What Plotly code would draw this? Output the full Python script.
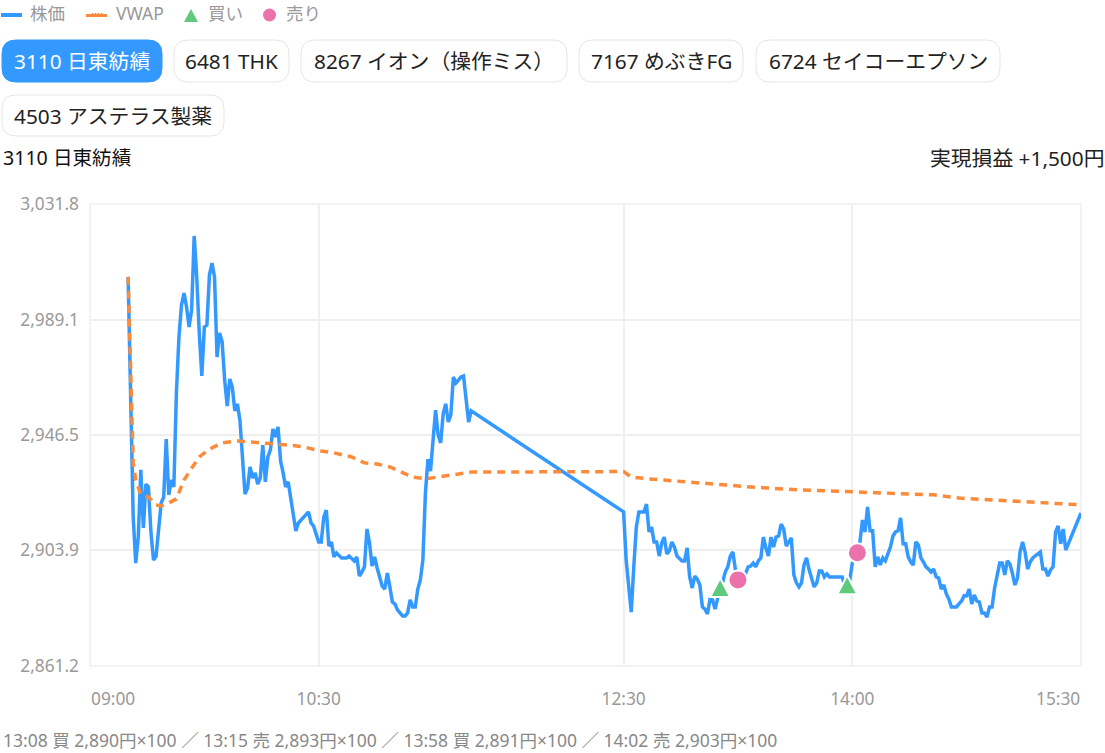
import pandas as pd
import plotly.graph_objects as go

# 前場 09:15-11:30 (1分足)
am_prices = [
    3004.9, 2960.5, 2916.2, 2899.2, 2908.8,
    2933.6, 2912.2, 2928.4, 2927.3, 2910.3, 2900.3, 2901.8, 2913.3, 2921.4, 2923.6,
    2945.0, 2924.4, 2929.9, 2927.3, 2962.0, 2982.7, 2994.5, 2998.9, 2993.8, 2986.4,
    2992.7, 3020.0, 3004.9, 2984.2, 2968.3, 2986.4, 2987.1, 3005.6, 3010.0, 3004.9,
    2975.3, 2984.2, 2980.9, 2966.8, 2957.2, 2967.2, 2964.2, 2955.4, 2958.0, 2952.0,
    2937.3, 2924.7, 2926.9, 2934.7, 2930.6, 2932.5, 2928.4, 2930.6, 2942.8, 2929.2,
    2938.4, 2941.0, 2948.7, 2945.8, 2949.5, 2936.9, 2932.5, 2927.3, 2929.2, 2922.5,
    2916.2, 2911.1, 2914.0, 2915.1, 2916.2, 2917.3, 2918.1, 2914.0, 2912.9, 2909.9,
    2907.0, 2907.0, 2916.2, 2918.8, 2905.5, 2907.0, 2901.5, 2902.9, 2901.8, 2901.1,
    2901.1, 2901.1, 2901.8, 2900.7, 2900.0, 2901.5, 2894.4, 2895.9, 2897.8, 2911.8,
    2906.6, 2898.1, 2901.5, 2897.4, 2894.1, 2890.7, 2889.6, 2895.5, 2890.4, 2884.8,
    2884.1, 2881.9, 2880.8, 2879.7, 2879.7, 2880.8, 2885.6, 2883.0, 2883.0, 2889.6,
    2893.0, 2900.3, 2925.1, 2937.6, 2933.2, 2945.8, 2955.7, 2946.5, 2943.6, 2954.3,
    2958.0, 2951.3, 2953.9, 2967.9, 2965.7, 2966.8, 2967.9, 2968.3, 2958.3, 2951.3,
    2955.4,
]
# 後場 12:30-15:24 (1分足)
pm_prices = [
    2918.1, 2900.3, 2891.1, 2881.1, 2897.8, 2912.5, 2918.1, 2918.1, 2918.1, 2921.0,
    2910.7, 2912.5, 2907.0, 2907.0, 2901.8, 2906.6, 2908.8, 2902.6, 2903.7, 2907.0,
    2905.1, 2901.8, 2901.1, 2900.0, 2900.0, 2904.8, 2894.1, 2890.0, 2894.4, 2893.3,
    2891.1, 2883.0, 2882.2, 2880.4, 2885.9, 2885.6, 2882.2, 2886.3, 2890.0, 2892.2,
    2895.9, 2897.8, 2901.8, 2903.3, 2896.7, 2893.0, 2892.2, 2893.0, 2895.5, 2897.8,
    2898.1, 2899.2, 2897.8, 2900.0, 2901.1, 2908.8, 2904.8, 2901.8, 2908.8, 2905.1,
    2908.8, 2909.2, 2913.6, 2911.8, 2905.5, 2907.0, 2908.5, 2894.8, 2891.9, 2890.4,
    2891.9, 2898.5, 2901.1, 2896.7, 2893.7, 2890.4, 2891.9, 2896.3, 2896.3, 2894.1,
    2895.2, 2894.1, 2894.1, 2894.1, 2894.1, 2894.1, 2894.1, 2891.1, 2891.1, 2893.0,
    2899.2, 2901.8, 2903.0, 2907.0, 2915.1, 2910.7, 2919.9, 2911.1, 2911.1, 2897.8,
    2901.5, 2898.5, 2901.1, 2900.0, 2902.9, 2905.1, 2909.2, 2910.7, 2911.1, 2915.9,
    2906.3, 2906.3, 2901.5, 2899.6, 2898.5, 2907.0, 2905.9, 2901.1, 2899.6, 2897.8,
    2897.0, 2895.9, 2897.0, 2894.1, 2893.7, 2889.6, 2891.1, 2887.8, 2885.9, 2883.0,
    2883.0, 2883.0, 2884.1, 2885.2, 2887.1, 2887.1, 2889.6, 2884.1, 2887.4, 2885.2,
    2884.8, 2880.8, 2880.8, 2879.3, 2883.0, 2883.0, 2890.0, 2894.1, 2899.2, 2899.2,
    2894.8, 2900.0, 2898.9, 2895.5, 2891.1, 2893.7, 2903.3, 2907.0, 2903.3, 2897.0,
    2899.6, 2901.1, 2901.8, 2902.2, 2903.3, 2897.0, 2897.0, 2894.4, 2896.7, 2897.8,
    2910.7, 2912.9, 2906.3, 2911.8, 2904.0,
]
close_time = "15:30"
close_price = 2917.7

vwap_times = [
    "09:15", "09:17", "09:18", "09:20", "09:23", "09:26", "09:28", "09:31", "09:34", "09:37",
    "09:39", "09:43", "09:47", "09:52", "09:58", "10:04", "10:12", "10:18", "10:24", "10:31",
    "10:36", "10:43", "10:48", "10:53", "10:58", "11:03", "11:07", "11:12", "11:17", "11:22",
    "11:27", "11:30", "12:30", "12:33", "12:40", "12:50", "13:03", "13:20", "13:40", "14:00",
    "14:20", "14:32", "14:42", "14:55", "15:08", "15:20", "15:30",
]
vwap_values = [
    3004.9, 2936.2, 2929.9, 2924.4, 2923.6, 2920.7, 2920.3, 2921.4, 2922.9, 2929.9,
    2932.8, 2938.4, 2941.3, 2943.6, 2944.3, 2943.9, 2943.4, 2942.8, 2942.1, 2940.6,
    2939.9, 2938.4, 2936.2, 2935.8, 2934.7, 2932.5, 2931.0, 2930.3, 2931.0, 2931.7,
    2932.5, 2932.8, 2933.0, 2931.0, 2930.3, 2929.5, 2928.4, 2927.3, 2926.2, 2925.5,
    2924.7, 2924.4, 2923.2, 2922.5, 2921.8, 2921.0, 2920.7,
]

buy_times = ["13:08", "13:58"]
buy_prices = [2890, 2891]
sell_times = ["13:15", "14:02"]
sell_prices = [2893, 2903]

y_ticks = [2861.2, 2903.9, 2946.5, 2989.1, 3031.8]
x_ticks = ["10:30", "12:30", "14:00"]

stocks = ["3110 日東紡績", "6481 THK", "8267 イオン（操作ミス）", "7167 めぶきFG", "6724 セイコーエプソン", "4503 アステラス製薬"]
footer = "13:08 買 2,890円×100 ／ 13:15 売 2,893円×100 ／ 13:58 買 2,891円×100 ／ 14:02 売 2,903円×100"

FONT = "Noto Sans, Noto Sans CJK JP"
BLUE = "#3399ff"
ORANGE = "#fb8b3c"
GREEN = "#5fc97c"
PINK = "#ec72ab"
GRID = "#efefef"
DAY = "2024-01-15 "

# プロット領域 (px)
L, R, T, B = 90, 1081, 204, 666


def px(x):
    return (x - L) / (R - L)


def py(y):
    return (B - y) / (B - T)


def day(times):
    return [DAY + t for t in times]


am_times = pd.date_range(DAY + "09:15", periods=len(am_prices), freq="min")
pm_times = pd.date_range(DAY + "12:30", periods=len(pm_prices), freq="min")
price_times = list(am_times) + list(pm_times) + [pd.Timestamp(DAY + close_time)]
price_values = am_prices + pm_prices + [close_price]

fig = go.Figure()
fig.add_trace(go.Scatter(x=price_times, y=price_values, mode="lines", line=dict(color=BLUE, width=3.5)))
fig.add_trace(go.Scatter(x=day(vwap_times), y=vwap_values, mode="lines",
                         line=dict(color=ORANGE, width=3.5, dash="8px,6px")))
fig.add_trace(go.Scatter(x=day(sell_times), y=sell_prices, mode="markers",
                         marker=dict(symbol="circle", size=19, color=PINK, line=dict(color="white", width=2))))

# 枠線
fig.add_shape(type="rect", xref="paper", yref="paper", x0=0, x1=1, y0=0, y1=1, layer="below",
              line=dict(color=GRID, width=1.5))

# 買いの三角はデータ点を中心に置く
for t, p in zip(buy_times, buy_prices):
    fig.add_shape(type="path", xref="x", yref="y", xsizemode="pixel", ysizemode="pixel",
                  xanchor=DAY + t, yanchor=p, path="M -10 -9 L 10 -9 L 0 10 Z",
                  fillcolor=GREEN, line=dict(color="white", width=2))


def rounded(x0, y0, x1, y1, r):
    return (
        f"M {px(x0 + r)} {py(y0)} L {px(x1 - r)} {py(y0)} Q {px(x1)} {py(y0)} {px(x1)} {py(y0 + r)} "
        f"L {px(x1)} {py(y1 - r)} Q {px(x1)} {py(y1)} {px(x1 - r)} {py(y1)} "
        f"L {px(x0 + r)} {py(y1)} Q {px(x0)} {py(y1)} {px(x0)} {py(y1 - r)} "
        f"L {px(x0)} {py(y0 + r)} Q {px(x0)} {py(y0)} {px(x0 + r)} {py(y0)} Z"
    )


def text(x, y, s, size=20.8, color="#222222", anchor="left"):
    fig.add_annotation(xref="paper", yref="paper", x=px(x), y=py(y), text=s, showarrow=False, xanchor=anchor,
                       yanchor="middle", borderpad=0, font=dict(family=FONT, size=size, color=color))


# 銘柄ボタン
boxes = [(2, 40, 162, 82), (174, 40, 289, 82), (301, 40, 567, 82), (579, 40, 743, 82), (756, 40, 1000, 82),
         (2, 95, 224, 136)]
for i, (name, box) in enumerate(zip(stocks, boxes)):
    active = i == 0
    fig.add_shape(type="path", xref="paper", yref="paper", path=rounded(*box, 14),
                  fillcolor=BLUE if active else "white", line=dict(color=BLUE if active else "#e6e6e6", width=1))
    text((box[0] + box[2]) / 2, (box[1] + box[3]) / 2, name, color="white" if active else "#222222", anchor="center")

# 凡例
fig.add_shape(type="line", xref="paper", yref="paper", x0=px(1), x1=px(22), y0=py(15), y1=py(15),
              line=dict(color=BLUE, width=4))
fig.add_shape(type="line", xref="paper", yref="paper", x0=px(86), x1=px(107), y0=py(15.5), y1=py(15.5),
              line=dict(color=ORANGE, width=3))
fig.add_shape(type="line", xref="paper", yref="paper", x0=px(92), x1=px(103), y0=py(13.5), y1=py(13.5),
              line=dict(color=ORANGE, width=1, dash="1.5px,1.5px"))
fig.add_shape(type="path", xref="paper", yref="paper", path=f"M {px(184)} {py(22)} L {px(198)} {py(22)} L {px(191)} {py(9)} Z",
              fillcolor=GREEN, line=dict(width=0))
fig.add_shape(type="circle", xref="paper", yref="paper", x0=px(263), x1=px(276), y0=py(8.5), y1=py(21.5),
              fillcolor=PINK, line=dict(width=0))
text(29, 13, "株価", 17.5, "#999999")
text(115, 13, "VWAP", 17.5, "#999999")
text(207, 13, "買い", 17.5, "#999999")
text(285, 13, "売り", 17.5, "#999999")

text(2, 158, stocks[0], 19.6, "#111111")
text(1105, 158, "実現損益 +1,500円", 20.8, "#222222", "right")
text(2, 740, footer, 17.5, "#888888")

# 軸の端のラベル
for t, anchor in (("09:00", "left"), ("15:30", "right")):
    fig.add_annotation(xref="x", yref="paper", x=DAY + t, y=py(698), text=t, showarrow=False, xanchor=anchor,
                       yanchor="middle", borderpad=0, font=dict(family=FONT, size=17.3, color="#999999"))

fig.update_layout(
    width=1105, height=753, showlegend=False, plot_bgcolor="white", paper_bgcolor="white",
    margin=dict(l=L, r=1105 - R, t=T, b=753 - B), hovermode=False,
    font=dict(family=FONT, size=17.3, color="#999999"),
    xaxis=dict(type="date", range=[DAY + "09:00", DAY + "15:30"], tickvals=day(x_ticks), ticktext=x_ticks,
               showgrid=True, gridcolor=GRID, gridwidth=1.5, showline=False,
               zeroline=False, ticks="", ticklabelstandoff=21),
    yaxis=dict(range=[y_ticks[0], y_ticks[-1]], tickvals=y_ticks, ticktext=[f"{v:,.1f}" for v in y_ticks],
               showgrid=True, gridcolor=GRID, gridwidth=1.5, showline=False,
               zeroline=False, ticks="", ticklabelstandoff=10),
)

fig.write_html("out.html", config={"displayModeBar": False}, post_script="document.body.style.margin='0';")
